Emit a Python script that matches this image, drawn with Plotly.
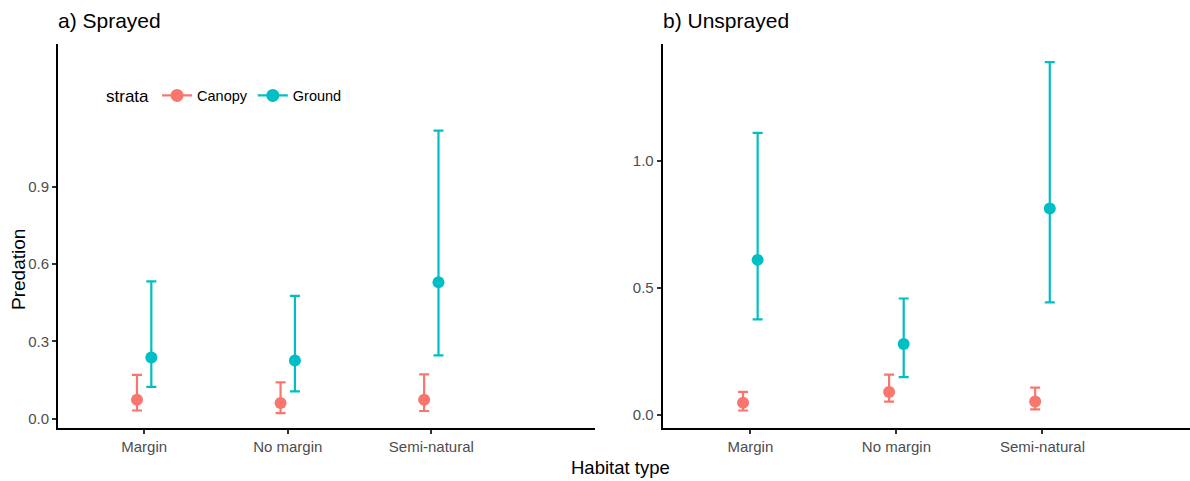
import plotly.graph_objects as go

categories = ["Margin", "No margin", "Semi-natural"]
strata = ["Canopy", "Ground"]
colors = {"Canopy": "#F8766D", "Ground": "#00BFC4"}

# Sprayed panel
sprayed_canopy = [0.074, 0.061, 0.074]
sprayed_canopy_hi = [0.170, 0.141, 0.172]
sprayed_canopy_lo = [0.032, 0.022, 0.030]
sprayed_ground = [0.238, 0.226, 0.530]
sprayed_ground_hi = [0.533, 0.477, 1.119]
sprayed_ground_lo = [0.124, 0.106, 0.246]

# Unsprayed panel
unsprayed_canopy = [0.046, 0.089, 0.051]
unsprayed_canopy_hi = [0.089, 0.157, 0.106]
unsprayed_canopy_lo = [0.016, 0.051, 0.020]
unsprayed_ground = [0.609, 0.278, 0.811]
unsprayed_ground_hi = [1.109, 0.457, 1.388]
unsprayed_ground_lo = [0.375, 0.147, 0.442]

y_ticks_sprayed = [0.0, 0.3, 0.6, 0.9]
y_ticks_unsprayed = [0.0, 0.5, 1.0]

W, H = 1190, 481
FONT = "Liberation Sans, Arial, sans-serif"
dodge = {"Canopy": -0.05, "Ground": 0.05}

fig = go.Figure()

panels = [
    ("x", "y", {"Canopy": (sprayed_canopy, sprayed_canopy_hi, sprayed_canopy_lo),
                "Ground": (sprayed_ground, sprayed_ground_hi, sprayed_ground_lo)}),
    ("x2", "y2", {"Canopy": (unsprayed_canopy, unsprayed_canopy_hi, unsprayed_canopy_lo),
                  "Ground": (unsprayed_ground, unsprayed_ground_hi, unsprayed_ground_lo)}),
]

for xa, ya, data in panels:
    for s in strata:
        mid, hi, lo = data[s]
        xs = [i + dodge[s] for i in range(len(categories))]
        fig.add_trace(go.Scatter(
            x=xs, y=mid, mode="markers", xaxis=xa, yaxis=ya,
            marker=dict(color=colors[s], size=12),
            error_y=dict(type="data", symmetric=False,
                         array=[h - m for h, m in zip(hi, mid)],
                         arrayminus=[m - l for m, l in zip(mid, lo)],
                         color=colors[s], thickness=2.2, width=5),
            showlegend=False, hoverinfo="skip"))

# legend entries
for s in strata:
    fig.add_trace(go.Scatter(x=[None], y=[None], mode="lines+markers", name=s,
                             marker=dict(color=colors[s], size=13),
                             line=dict(color=colors[s], width=2.2)))

def px_x(p):
    return p / W

def px_y(p):
    return 1 - p / H

axis_common = dict(showgrid=False, zeroline=False, showline=True, linecolor="black",
                   linewidth=2, ticks="outside", ticklen=4, tickwidth=1.5, tickcolor="#333333",
                   tickfont=dict(family=FONT, size=15, color="#4D4D4D"))

ydom = [px_y(427.5), px_y(44)]

fig.update_layout(
    width=W, height=H, margin=dict(l=0, r=0, t=0, b=0),
    plot_bgcolor="white", paper_bgcolor="white",
    font=dict(family=FONT),
    xaxis=dict(domain=[px_x(58), px_x(595)], range=[-0.6, 3.14],
               tickvals=list(range(len(categories))), ticktext=categories, anchor="y",
               **axis_common),
    yaxis=dict(domain=ydom, range=[-0.034, 1.455], tickvals=y_ticks_sprayed,
               tickformat=".1f", anchor="x", **axis_common),
    xaxis2=dict(domain=[px_x(662.7), 1.0], range=[-0.6, 3.01],
                tickvals=list(range(len(categories))), ticktext=categories, anchor="y2",
                **axis_common),
    yaxis2=dict(domain=ydom, range=[-0.051, 1.459], tickvals=y_ticks_unsprayed,
                tickformat=".1f", anchor="x2", **axis_common),
    legend=dict(orientation="h", x=px_x(104), y=px_y(96), xanchor="left", yanchor="middle",
                title=dict(text="strata", font=dict(family=FONT, size=17, color="black")),
                font=dict(family=FONT, size=14.5, color="black"), bgcolor="rgba(0,0,0,0)"),
    annotations=[
        dict(text="a) Sprayed", x=px_x(56), y=px_y(20), xref="paper", yref="paper",
             xanchor="left", yanchor="middle", showarrow=False,
             font=dict(family=FONT, size=21, color="black")),
        dict(text="b) Unsprayed", x=px_x(661), y=px_y(20), xref="paper", yref="paper",
             xanchor="left", yanchor="middle", showarrow=False,
             font=dict(family=FONT, size=21, color="black")),
        dict(text="Predation", x=px_x(18), y=px_y(270), xref="paper", yref="paper",
             xanchor="center", yanchor="middle", showarrow=False, textangle=-90,
             font=dict(family=FONT, size=19, color="black")),
        dict(text="Habitat type", x=px_x(620), y=px_y(467), xref="paper", yref="paper",
             xanchor="center", yanchor="middle", showarrow=False,
             font=dict(family=FONT, size=18.5, color="black")),
    ],
)

fig.write_html("out.html", config={"displayModeBar": False},
               post_script="document.body.style.margin='0';document.body.style.overflow='hidden';")
